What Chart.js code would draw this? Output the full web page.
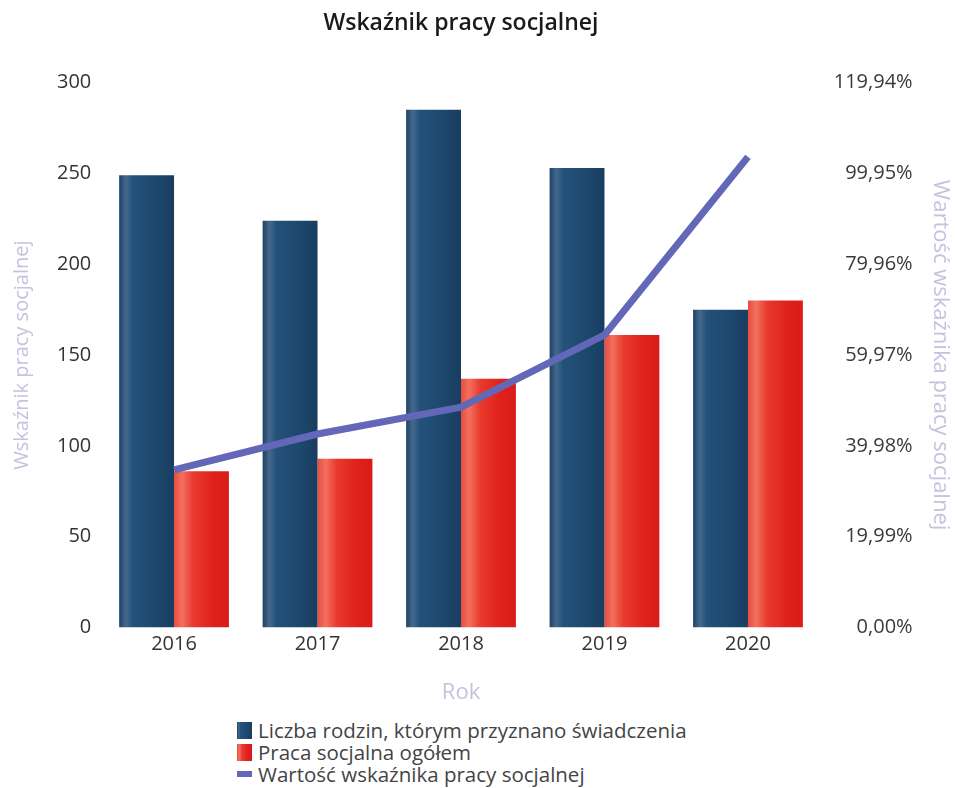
<!DOCTYPE html>
<html>
<head>
<meta charset="utf-8">
<script src="https://cdn.jsdelivr.net/npm/chart.js@4.4.1/dist/chart.umd.min.js"></script>
<style>
  html, body { margin: 0; padding: 0; background: #fff; }
  #wrap { position: relative; width: 955px; height: 710px; }
  #legend { position: absolute; left: 237px; top: 719px; font-family: "Open Sans", sans-serif; font-size: 20.5px; color: #444; line-height: 22px; }
  #legend .item { display: flex; align-items: center; white-space: nowrap; height: 22px; }
  #legend .box { width: 15px; height: 17px; margin-right: 6px; }
  #legend .lbox { width: 15px; height: 6px; margin-right: 6px; }
</style>
</head>
<body>
<div id="wrap"><canvas id="c"></canvas></div>
<div id="legend"></div>
<script>
const categories = ["2016", "2017", "2018", "2019", "2020"];
const families = [249, 224, 285, 253, 175];
const socialWork = [86, 93, 137, 161, 180];
const indicatorPct = [34.7, 42.6, 48.5, 64.4, 103.6];
const rightTicks = [0, 19.99, 39.98, 59.97, 79.96, 99.95, 119.94];
const seriesNames = ["Liczba rodzin, którym przyznano świadczenia", "Praca socjalna ogółem", "Wartość wskaźnika pracy socjalnej"];
const titleText = "Wskaźnik pracy socjalnej";
const leftTitle = "Wskaźnik pracy socjalnej";
const rightTitle = "Wartość wskaźnika pracy socjalnej";
const xTitle = "Rok";

const BLUE = "#1f4b73";
const RED = "#e5261f";
const LINE = "#6367b7";

const gradStops = {
  blue: [[0, "#1c4164"], [0.12, "#44698d"], [0.25, "#24517a"], [0.6, "#1e4a70"], [1, "#193d60"]],
  red: [[0, "#ea4c3e"], [0.15, "#f2705f"], [0.35, "#e83a2e"], [0.7, "#e0221d"], [1, "#d81c18"]]
};

const gradientPlugin = {
  id: "barGradient",
  beforeDatasetsDraw(chart) {
    const ctx = chart.ctx;
    chart.data.datasets.forEach((ds, di) => {
      if (!ds._grad) return;
      const meta = chart.getDatasetMeta(di);
      meta.data.forEach(el => {
        const x0 = el.x - el.width / 2, x1 = el.x + el.width / 2;
        const g = ctx.createLinearGradient(x0, 0, x1, 0);
        gradStops[ds._grad].forEach(s => g.addColorStop(s[0], s[1]));
        el.options.backgroundColor = g;
      });
    });
  }
};

const fontFam = '"Open Sans", sans-serif';

const chart = new Chart(document.getElementById("c"), {
  data: {
    labels: categories,
    datasets: [
      { type: "line", label: seriesNames[2], data: indicatorPct, yAxisID: "y1", borderColor: LINE, backgroundColor: LINE, borderWidth: 7, pointRadius: 0, tension: 0, order: 0 },
      { type: "bar", label: seriesNames[0], data: families, yAxisID: "y", backgroundColor: () => BLUE, _grad: "blue", order: 1, barPercentage: 1, categoryPercentage: 0.765 },
      { type: "bar", label: seriesNames[1], data: socialWork, yAxisID: "y", backgroundColor: () => RED, _grad: "red", order: 1, barPercentage: 1, categoryPercentage: 0.765 }
    ]
  },
  options: {
    responsive: true,
    maintainAspectRatio: false,
    animation: false,
    layout: { padding: { left: 0, right: 1, top: 4, bottom: 0 } },
    plugins: {
      legend: { display: false },
      tooltip: { enabled: false },
      title: { display: true, fullSize: false, text: titleText, color: "#1a1a1a", font: { family: fontFam, size: 23, weight: "600" }, padding: { top: 6, bottom: 45 } }
    },
    scales: {
      x: {
        grid: { display: false, drawTicks: false }, border: { display: false },
        ticks: { color: "#333", font: { family: fontFam, size: 20 }, padding: 5 },
        title: { display: true, text: xTitle, color: "#c3c2df", font: { family: fontFam, size: 22 }, padding: { top: 18, bottom: 4 } }
      },
      y: {
        position: "left", min: 0, max: 300,
        grid: { display: false, drawTicks: false }, border: { display: false },
        ticks: { stepSize: 50, color: "#333", font: { family: fontFam, size: 20 }, padding: 11 },
        title: { display: true, text: leftTitle, color: "#c3c2df", font: { family: fontFam, size: 20 }, padding: { top: 10, bottom: 12 } }
      },
      y1: {
        position: "right", min: 0, max: 119.94, weight: 0,
        grid: { display: false, drawTicks: false }, border: { display: false },
        afterBuildTicks: (axis) => { axis.ticks = rightTicks.map(v => ({ value: v })); },
        ticks: {
          color: "#3a3a3a", font: { family: fontFam, size: 20 }, padding: 7, crossAlign: "far",
          callback: (v) => Number(v).toFixed(2).replace(".", ",") + "%"
        },
        title: { display: false }
      },
      yT: {
        position: "right", min: 0, max: 1, weight: 1,
        grid: { display: false, drawTicks: false }, border: { display: false },
        ticks: { display: false },
        title: { display: true, text: rightTitle, color: "#c3c2df", font: { family: fontFam, size: 22 }, padding: { top: 1, bottom: 14 } }
      }
    }
  },
  plugins: [gradientPlugin]
});

// HTML legend built from datasets
const legendEl = document.getElementById("legend");
[1, 2, 0].forEach(i => {
  const ds = chart.data.datasets[i];
  const item = document.createElement("div");
  item.className = "item";
  const box = document.createElement("span");
  box.className = ds.type === "line" ? "lbox" : "box";
  box.style.background = ds._grad ? "linear-gradient(to right," + gradStops[ds._grad].map(s => s[1] + " " + (s[0] * 100) + "%").join(",") + ")" : ds.borderColor;
  const txt = document.createElement("span");
  txt.textContent = ds.label;
  item.appendChild(box); item.appendChild(txt);
  legendEl.appendChild(item);
});
</script>
</body>
</html>
